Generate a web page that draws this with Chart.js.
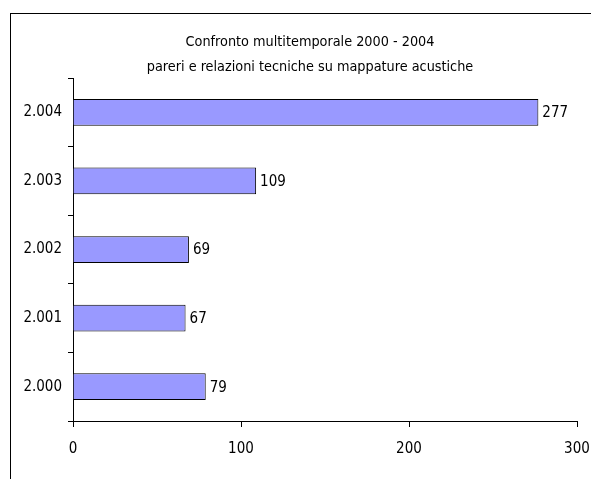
<!DOCTYPE html>
<html>
<head>
<meta charset="utf-8">
<script src="https://cdn.jsdelivr.net/npm/chart.js@4"></script>
<style>
  html, body { margin: 0; padding: 0; background: #fff; }
  #wrap { width: 591px; height: 479px; }
</style>
</head>
<body>
<div id="wrap"><canvas id="c" width="591" height="479"></canvas></div>
<script>
// Pareri e relazioni tecniche su mappature acustiche, per anno
const years = ['2.000', '2.001', '2.002', '2.003', '2.004'];
const pareri = [79, 67, 69, 109, 277];
const xTicks = [0, 100, 200, 300];
const titleLines = ['Confronto multitemporale 2000 - 2004', 'pareri e relazioni tecniche su mappature acustiche'];

const FONT = '"Liberation Sans Narrow", "DejaVu Sans Condensed", "Open Sans", sans-serif';
const TITLE_SIZE = 14.3;
const SIZE = 15;
const FRAME_LEFT = 10.5;
const FRAME_TOP = 13.5;

// White page with the outer frame of the chart object
const framePlugin = {
  id: 'frame',
  afterLayout(chart) {
    // the title is centred on the frame, which runs past the right edge
    if (chart.titleBlock) chart.titleBlock.left = 29;
  },
  beforeDraw(chart) {
    const ctx = chart.ctx;
    ctx.save();
    ctx.fillStyle = '#fff';
    ctx.fillRect(0, 0, chart.width, chart.height);
    ctx.strokeStyle = '#000';
    ctx.lineWidth = 1;
    ctx.strokeRect(FRAME_LEFT, FRAME_TOP, chart.width + 20, chart.height + 20);
    ctx.restore();
  }
};

// Value labels printed just past the end of each bar
const valueLabels = {
  id: 'valueLabels',
  afterDatasetsDraw(chart) {
    const ctx = chart.ctx;
    const meta = chart.getDatasetMeta(0);
    ctx.save();
    ctx.font = SIZE + 'px ' + FONT;
    ctx.fillStyle = '#000';
    ctx.textAlign = 'left';
    ctx.textBaseline = 'middle';
    meta.data.forEach((bar, i) => {
      ctx.fillText(String(chart.data.datasets[0].data[i]), bar.x + 4, bar.y + 1);
    });
    ctx.restore();
  }
};

new Chart(document.getElementById('c'), {
  type: 'bar',
  data: {
    labels: years,
    datasets: [{
      data: pareri,
      backgroundColor: '#9999FF',
      borderColor: '#000',
      borderWidth: 1,
      barPercentage: 0.39,
      categoryPercentage: 1
    }]
  },
  options: {
    indexAxis: 'y',
    responsive: false,
    animation: false,
    layout: { padding: { left: 0, right: 0, top: 14, bottom: 0 } },
    plugins: {
      legend: { display: false },
      tooltip: { enabled: false },
      title: {
        display: true,
        text: titleLines,
        color: '#000',
        font: { family: FONT, size: TITLE_SIZE, weight: 'normal', lineHeight: 1.75 },
        padding: { top: 16, bottom: -2 }
      }
    },
    scales: {
      x: {
        type: 'linear',
        min: 0,
        max: 300,
        afterBuildTicks(scale) { scale.ticks = xTicks.map(v => ({ value: v })); },
        afterFit(scale) {
          scale.height = 58;
          scale.paddingLeft = 0;
          scale.paddingRight = 14;
        },
        grid: { drawOnChartArea: false, drawTicks: true, tickLength: 6, color: '#000' },
        border: { display: true, color: '#000', width: 1 },
        ticks: { color: '#000', padding: 13, maxRotation: 0, font: { family: FONT, size: SIZE } }
      },
      y: {
        reverse: true,
        afterFit(scale) { scale.width = 73; },
        grid: { offset: true, drawOnChartArea: false, drawTicks: true, tickLength: 5, color: '#000' },
        border: { display: true, color: '#000', width: 1 },
        ticks: { color: '#000', padding: 6, font: { family: FONT, size: SIZE } }
      }
    }
  },
  plugins: [framePlugin, valueLabels]
});
</script>
</body>
</html>
